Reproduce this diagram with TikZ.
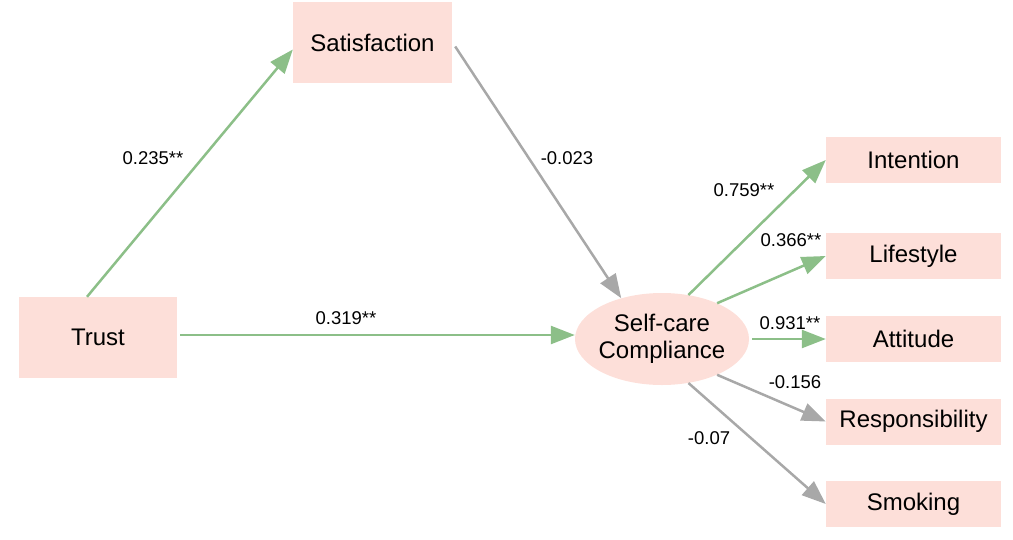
\documentclass[tikz,border=0pt]{standalone}
\usepackage{fontspec}
\setmainfont{Liberation Sans}
\usetikzlibrary{arrows.meta,shapes.geometric}
\definecolor{boxpink}{RGB}{253,223,217}
\definecolor{pathgreen}{RGB}{140,191,136}
\definecolor{pathgray}{RGB}{168,168,168}
\tikzset{
	varbox/.style={rectangle, fill=boxpink, inner sep=0pt, font=\fontsize{24}{27}\selectfont},
	sig/.style={draw=pathgreen, line width=2.5pt, -{Triangle[length=24pt,width=18pt]}, pathgreen},
	nonsig/.style={draw=pathgray, line width=2.5pt, -{Triangle[length=24pt,width=18pt]}, pathgray},
	coef/.style={font=\fontsize{18.5}{22}\selectfont, inner sep=0pt}
}
\begin{document}
\begin{tikzpicture}[x=1pt, y=-1pt]
			\useasboundingbox (0, 0) rectangle (1013, 539);

			\node[varbox, minimum width=158pt, minimum height=81pt]	(trust)	at (98, 337.5) {Trust};
			\node[varbox, minimum width=159pt, minimum height=81pt]	(sat)	at (372.5, 42.5) {Satisfaction};
			\node[ellipse, fill=boxpink, inner xsep=-5pt, inner ysep=0pt, minimum width=174pt, minimum height=92pt,
				align=center, font=\fontsize{24}{27}\selectfont]	(scc)	at (662, 339) {Self-care\\Compliance};

			\node[varbox, minimum width=175pt, minimum height=46pt]	(int)	at (913.5, 160) {Intention};
			\node[varbox, minimum width=175pt, minimum height=46pt]	(life)	at (913.5, 256) {Lifestyle};
			\node[varbox, minimum width=175pt, minimum height=46pt]	(att)	at (913.5, 339) {Attitude};
			\node[varbox, minimum width=175pt, minimum height=46pt]	(resp)	at (913.5, 421.5) {Responsibility};
			\node[varbox, minimum width=175pt, minimum height=46pt]	(smok)	at (913.5, 504) {Smoking};

			\draw[sig]		([xshift=-11pt]trust.north) to ([yshift=-7pt]sat.west);
			\draw[sig]		([xshift=3pt,yshift=2.5pt]trust.east) to ([yshift=4pt]scc.west);
			\draw[nonsig]	([xshift=3pt,yshift=-4pt]sat.east) to (scc.135);

			\draw[sig]		(scc.59) to (int.west);
			\draw[sig]		(scc.33) to (life.west);
			\draw[sig]		([xshift=3pt]scc.east) to (att.west);
			\draw[nonsig]	(scc.-33) to (resp.west);
			\draw[nonsig]	(scc.-59) to (smok.west);

			\node[coef]	(c1)	at (153, 158) {0.235**};
			\node[coef]	(c2)	at (346, 318) {0.319**};
			\node[coef]	(c3)	at (567, 158) {-0.023};
			\node[coef]	(c4)	at (744, 190) {0.759**};
			\node[coef]	(c5)	at (791, 240) {0.366**};
			\node[coef]	(c6)	at (790, 323) {0.931**};
			\node[coef]	(c7)	at (795, 382) {-0.156};
			\node[coef]	(c8)	at (709, 438) {-0.07};
		\end{tikzpicture}
\end{document}
